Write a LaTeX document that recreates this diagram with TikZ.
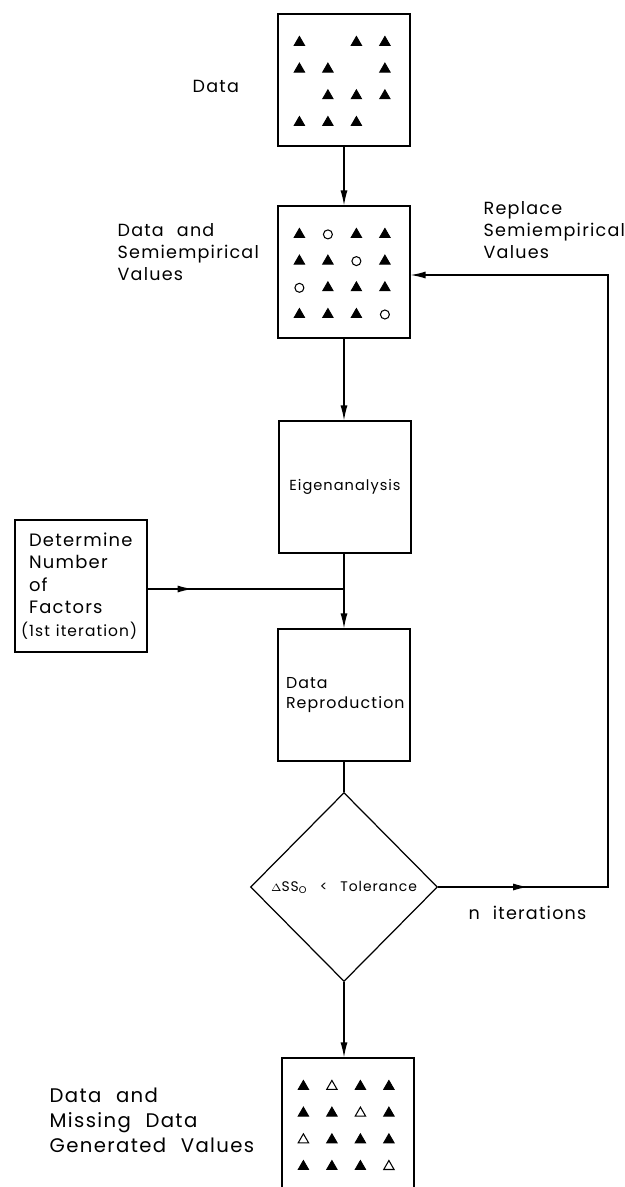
\documentclass[tikz,border=0pt]{standalone}
\usepackage{fontspec}
\setmainfont{Poppins}[LetterSpace=7,WordSpace=2.2]
\usetikzlibrary{shapes,positioning,arrows.meta,calc,decorations.markings}

\begin{document}
\begin{tikzpicture}[x=0.02cm,y=-0.02cm,line width=0.7pt]
        %
        % `block' is used for the square boxes of the chart.
        % `test' is the diamond, `lbl' is used for the free texts.
        % `full', `hollow' and `ring' are the marks inside the boxes.
        \tikzstyle{block} = [draw,minimum width=2.64cm,minimum height=2.64cm,inner sep=0pt]
        \tikzstyle{test} = [draw,shape=diamond,minimum width=3.74cm,minimum height=3.78cm,inner sep=0pt,font=\fontsize{7.9}{9}\selectfont]
        \tikzstyle{lbl} = [anchor=west,align=left,inner sep=0pt,font=\fontsize{10}{12.5}\selectfont]
        \tikzstyle{full} = [fill,draw,shape=regular polygon,regular polygon sides=3,minimum size=0.24cm,inner sep=0pt,line width=0.5pt]
        \tikzstyle{hollow} = [full,fill=white,line width=0.6pt]
        \tikzstyle{ring} = [draw,shape=circle,minimum size=0.18cm,inner sep=0pt,line width=0.6pt]
        \tikzset{flow/.style={-{Latex[length=0.3cm,width=0.14cm]}},
             midflow/.style={postaction={decorate},decoration={markings,mark=at position #1 with {\arrow{Latex[length=0.3cm,width=0.14cm]}}}}}
        %
        % Page
        \useasboundingbox (0,0) rectangle (625,1187);
        \clip (0,0) rectangle (625,1187);
        %
        % Boxes down the middle
        \node[block] (data) at (344,80) {};
        \node[block] (semi) at (344,272) {};
        \node[block,font=\fontsize{8.3}{10}\selectfont] (eig) at (345,487) {Eigenanalysis};
        \node[block,text width=2.32cm,align=left,font=\fontsize{9}{11}\selectfont] (rep) at (344,695) {Data\\Reproduction};
        \node[test] (tol) at (344,887) {{\fontsize{6.5}{6.5}\selectfont$\Delta$}SS\textsubscript{O} \,<\, Tolerance};
        \node[block] (out) at (348,1124) {};
        %
        % Box on the left
        \node[block,text width=2.4cm,align=left,font=\fontsize{10.2}{12.8}\selectfont] (det) at (81,586)
            {\hspace*{0.16cm}Determine\\\hspace*{0.16cm}Number\\\hspace*{0.16cm}of\\\hspace*{0.16cm}Factors\\{\fontsize{8.8}{10}\selectfont(1st iteration)}};
        %
        % Texts
        \node[lbl] (data-lbl) at (192,86) {Data};
        \node[lbl] (semi-lbl) at (117,252) {Data and\\Semiempirical\\Values};
        \node[lbl] (back-lbl) at (483,230) {Replace\\Semiempirical\\Values};
        \node[lbl] (iter-lbl) at (468,913) {n iterations};
        \node[lbl,font=\fontsize{11.2}{14.2}\selectfont] (out-lbl) at (49,1120) {Data and\\Missing Data\\Generated Values};
        %
        % Marks in the boxes
        \foreach \r/\c in {1/1,1/3,1/4,2/1,2/2,2/4,3/2,3/3,3/4,4/1,4/2,4/3}
            \node[full] (data-\r\c) at ($(data.north west)+({22+28.5*(\c-1)},{29+26.7*(\r-1)})$) {};
        \foreach \r/\c in {1/1,1/3,1/4,2/1,2/2,2/4,3/2,3/3,3/4,4/1,4/2,4/3}
            \node[full] (semi-\r\c) at ($(semi.north west)+({22+28.5*(\c-1)},{29+26.7*(\r-1)})$) {};
        \foreach \r/\c in {1/2,2/3,3/1,4/4}
            \node[ring] (semi-\r\c) at ($(semi.north west)+({22+28.5*(\c-1)},{29+26.7*(\r-1)})$) {};
        \foreach \r/\c in {1/1,1/3,1/4,2/1,2/2,2/4,3/2,3/3,3/4,4/1,4/2,4/3}
            \node[full] (out-\r\c) at ($(out.north west)+({22+28.5*(\c-1)},{29+26.7*(\r-1)})$) {};
        \foreach \r/\c in {1/2,2/3,3/1,4/4}
            \node[hollow] (out-\r\c) at ($(out.north west)+({22+28.5*(\c-1)},{29+26.7*(\r-1)})$) {};
        %
        % Connectors
        \coordinate (join) at (344,589);
        \coordinate (far) at (608,887);
        \coordinate (back) at (608,275);
        \draw[flow] (data) -- (semi);
        \draw[flow] (semi) -- (eig.north -| semi);
        \draw[flow] (eig.south -| semi) -- (rep);
        \draw[midflow=0.9cm] (det.east |- join) -- (join);
        \draw (rep) -- (tol);
        \draw[flow] (tol.south) -- (tol.south |- out.north);
        \draw[flow,midflow=1.8cm] (tol.east) -- (far) -- (back) -- (semi.east |- back);
        %
\end{tikzpicture}
\end{document}
